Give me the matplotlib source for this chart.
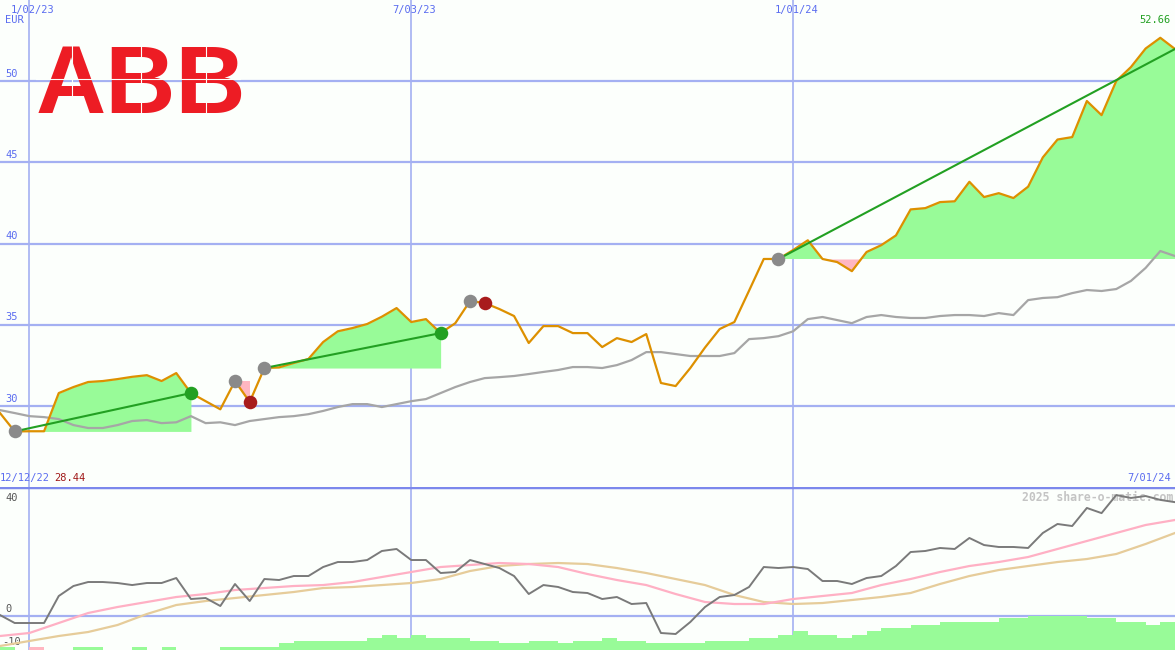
import matplotlib.pyplot as plt
import matplotlib.dates as mdates
import numpy as np
import pandas as pd

# weekly closes, ABB (EUR)
weeks = pd.date_range('2022-12-19', periods=81, freq='7D')
price = [29.57, 28.44, 28.45, 28.45, 30.8, 31.17, 31.48, 31.54, 31.66, 31.8,
         31.9, 31.54, 32.03, 30.8, 30.3, 29.8, 31.54, 30.25, 32.34, 32.38,
         32.65, 32.9, 33.94, 34.6, 34.8, 35.05, 35.5, 36.03, 35.17, 35.35,
         34.49, 35.1, 36.46, 36.34, 35.97, 35.54, 33.88, 34.92, 34.92, 34.49,
         34.49, 33.63, 34.18, 33.94, 34.43, 31.42, 31.23, 32.34, 33.6, 34.74,
         35.17, 37.1, 39.05, 39.05, 39.6, 40.2, 39.05, 38.86, 38.3, 39.48,
         39.9, 40.5, 42.1, 42.18, 42.55, 42.6, 43.8, 42.86, 43.1, 42.8,
         43.5, 45.3, 46.4, 46.55, 48.77, 47.9, 50.0, 50.86, 52.0, 52.66, 51.97]
# comparison index (grey line), scaled to price axis
index_line = [29.75, 29.57, 29.38, 29.32, 29.2, 28.83, 28.65, 28.65, 28.83, 29.08,
              29.14, 28.95, 29.0, 29.38, 28.95, 29.0, 28.83, 29.08, 29.2, 29.32,
              29.38, 29.5, 29.7, 29.94, 30.12, 30.12, 29.94, 30.12, 30.3, 30.43,
              30.8, 31.17, 31.48, 31.72, 31.78, 31.85, 31.97, 32.1, 32.22, 32.4,
              32.4, 32.34, 32.52, 32.83, 33.32, 33.32, 33.2, 33.08, 33.08, 33.08,
              33.26, 34.12, 34.18, 34.3, 34.6, 35.35, 35.48, 35.29, 35.1, 35.48,
              35.6, 35.48, 35.42, 35.42, 35.54, 35.6, 35.6, 35.54, 35.72, 35.6,
              36.52, 36.65, 36.7, 36.95, 37.14, 37.08, 37.2, 37.7, 38.5, 39.54, 39.23]

# signals: (start week, end week, result)
signals = [(1, 13, 'win'), (16, 17, 'loss'), (18, 30, 'win'), (32, 33, 'loss'), (53, 80, 'open')]

# lower panel
momentum = [0.31, -2.17, -2.17, -2.17, 6.2, 9.3, 10.54, 10.54, 10.23, 9.6,
            10.23, 10.23, 11.78, 5.27, 5.58, 3.1, 9.92, 4.65, 11.47, 11.16,
            12.4, 12.4, 15.19, 16.74, 16.74, 17.36, 20.16, 20.78, 17.36, 17.36,
            13.33, 13.64, 17.36, 16.12, 14.88, 12.4, 6.82, 9.6, 9.0, 7.44,
            7.13, 5.27, 5.89, 3.72, 4.03, -5.27, -5.58, -1.86, 2.79, 5.89,
            6.51, 9.0, 15.19, 14.88, 15.19, 14.57, 10.85, 10.85, 9.92, 11.78,
            12.4, 15.5, 19.84, 20.16, 21.09, 20.78, 24.19, 22.0, 21.4, 21.4,
            21.09, 25.74, 28.53, 27.9, 33.5, 31.9, 37.5, 36.6, 37.2, 36.0, 35.3]
# two averages, read every second week
avg_fast = [-6.2, -5.27, -2.17, 0.93, 2.79, 4.34, 5.89, 6.82, 8.06, 8.68,
            9.3, 9.6, 10.54, 12.09, 13.64, 15.19, 15.81, 16.43, 16.12, 15.19,
            13.02, 11.16, 9.6, 6.82, 4.34, 3.72, 3.72, 5.27, 6.2, 7.13,
            9.6, 11.47, 13.64, 15.5, 16.74, 18.29, 20.78, 23.26, 25.74, 28.22, 29.77]
avg_slow = [-9.3, -7.75, -6.2, -4.96, -2.79, 0.62, 3.41, 4.65, 5.58, 6.51,
            7.44, 8.68, 8.99, 9.6, 10.23, 11.47, 13.95, 15.5, 16.12, 16.43,
            16.12, 14.88, 13.33, 11.47, 9.6, 6.51, 4.34, 3.72, 4.03, 4.96,
            5.89, 7.13, 9.92, 12.4, 14.26, 15.5, 16.74, 17.67, 19.22, 22.33, 25.74]
# bar tops (nan = no bar), per week
bar_top = [-9.6, np.nan, -9.6, np.nan, np.nan, -9.6, -9.6, np.nan, np.nan, -9.6,
           np.nan, -9.6, np.nan, np.nan, np.nan, -9.6, -9.6, -9.6, -9.6, -8.4,
           -7.75, -7.75, -7.75, -7.75, -7.75, -6.7, -5.9, -6.7, -5.9, -6.7,
           -6.7, -6.7, -7.75, -7.75, -8.4, -8.4, -7.75, -7.75, -8.4, -7.75,
           -7.75, -6.7, -7.75, -7.75, -8.4, -8.4, -8.4, -8.4, -7.75, -7.75,
           -7.75, -6.7, -6.7, -5.9, -4.65, -5.9, -5.9, -6.7, -5.9, -4.65,
           -3.6, -3.6, -2.8, -2.8, -1.8, -1.8, -1.8, -1.8, -0.6, -0.6,
           0.0, 0.0, 0.0, 0.0, -0.6, -0.6, -1.8, -1.8, -2.8, -1.8]
bar_colors = ['#98fb98'] * 80
bar_colors[2] = '#ffb6c1'

grid_dates = ['2023-01-02', '2023-07-03', '2024-01-01']
grid_labels = ['1/02/23', '7/03/23', '1/01/24']
price_ticks = [30, 35, 40, 45, 50]

bg = '#fcfffc'
gridc = '#a4b0f2'
labc = '#5a6cf0'
mono = 'DejaVu Sans Mono'

fig = plt.figure(figsize=(11.75, 6.5), dpi=100, facecolor=bg)
ax = fig.add_axes([0, 163 / 650, 1, 487 / 650], facecolor=bg)
ax2 = fig.add_axes([0, 0, 1, 163 / 650], facecolor=bg)

x = mdates.date2num(weeks)
for a in (ax, ax2):
    a.set_xlim(x[0], x[-1])
    a.axis('off')
    for d in grid_dates:
        a.axvline(mdates.datestr2num(d), color=gridc, lw=1.2, zorder=1)

ax.set_ylim(25.02, 54.985)
ax2.set_ylim(-10.54, 40)

# upper panel
for t in price_ticks:
    ax.axhline(t, color=gridc, lw=1.6, zorder=1)
    ax.text(x[0] + 2.4, t + 0.15, str(t), color=labc, fontsize=7.5, family=mono,
            ha='left', va='bottom', zorder=6)

p = np.array(price)
for s, e, res in signals:
    xs = x[s:e + 1]
    ps = p[s:e + 1]
    base = p[s]
    ax.fill_between(xs, base, ps, where=ps >= base, interpolate=True,
                    color='#98fb98', lw=0, zorder=2)
    ax.fill_between(xs, base, ps, where=ps < base, interpolate=True,
                    color='#ffb6c1', lw=0, zorder=2)

ax.plot(x, index_line, color='#a6a6a6', lw=1.6, zorder=3)
ax.plot(x, price, color='#dd9000', lw=1.6, zorder=4)

for s, e, res in signals:
    if res != 'loss':
        ax.plot([x[s], x[e]], [p[s], p[e]], color='#22a022', lw=1.5, zorder=5)
    ax.scatter(x[s], p[s], s=95, color='#8a8a8a', zorder=6, lw=0)
    if res == 'win':
        ax.scatter(x[e], p[e], s=95, color='#22a022', zorder=6, lw=0)
    elif res == 'loss':
        ax.scatter(x[e], p[e], s=95, color='#a81c1c', zorder=6, lw=0)

for d, lab in zip(grid_dates, grid_labels):
    ax.text(mdates.datestr2num(d) + 1.5, 54.4, lab, color=labc, fontsize=7.5,
            family=mono, ha='center', va='center')
ax.text(x[0] + 2.4, 53.75, 'EUR', color=labc, fontsize=7.5, family=mono, va='center')
ax.text(x[-1] - 2, 53.75, f'{max(price):.2f}', color='#22a022', fontsize=7.5,
        family=mono, ha='right', va='center')
ax.text(x[0], 25.6, '12/12/22', color=labc, fontsize=7.5, family=mono, va='center')
ax.text(x[0] + 26, 25.6, f'{min(price):.2f}', color='#a01818', fontsize=7.5,
        family=mono, va='center')
ax.text(x[-1] - 2, 25.6, '7/01/24', color=labc, fontsize=7.5, family=mono,
        ha='right', va='center')

# ABB logo
fig.text(36 / 1175, (650 - 113) / 650, 'ABB', color='#ed1c24', fontsize=70,
         family='Liberation Sans', weight='bold', ha='left', va='baseline', zorder=4)
fig.add_artist(plt.Line2D([36 / 1175, 240 / 1175], [(650 - 79) / 650] * 2,
                          color=bg, lw=0.8, zorder=5))
for vx in [72, 141, 206]:
    fig.add_artist(plt.Line2D([vx / 1175] * 2, [(650 - 114) / 650, (650 - 44) / 650],
                              color=bg, lw=0.8, zorder=5))

# lower panel
ax2.axhline(0, color=gridc, lw=1.6, zorder=1)
ax2.axhline(40, color='#7c88ec', lw=2.5, zorder=6)
heights = np.array(bar_top) + 10.54
ax2.bar(x[:-1], heights, width=7, bottom=-10.54, align='edge',
        color=bar_colors, lw=0, zorder=2)
ax2.text(x[-1] - 1, 36.6, '2025 share-o-matic.com', color='#c4c4c4', fontsize=8.3,
         family=mono, weight='bold', ha='right', va='center', zorder=3)
ax2.plot(x[::2], avg_slow, color='#e6cc9a', lw=1.6, zorder=4)
ax2.plot(x[::2], avg_fast, color='#ffb0c4', lw=1.6, zorder=4)
ax2.plot(x, momentum, color='#7a7a7a', lw=1.4, zorder=5)
ax2.text(x[0] + 2.4, 36.6, '40', color='#555555', fontsize=7.5, family=mono, va='center')
ax2.text(x[0] + 2.4, 2.2, '0', color='#555555', fontsize=7.5, family=mono, va='center')
ax2.text(x[0] + 1, -8.0, '-10', color='#555555', fontsize=7.5, family=mono, va='center')

fig.savefig('out.png', dpi=100, facecolor=bg)
